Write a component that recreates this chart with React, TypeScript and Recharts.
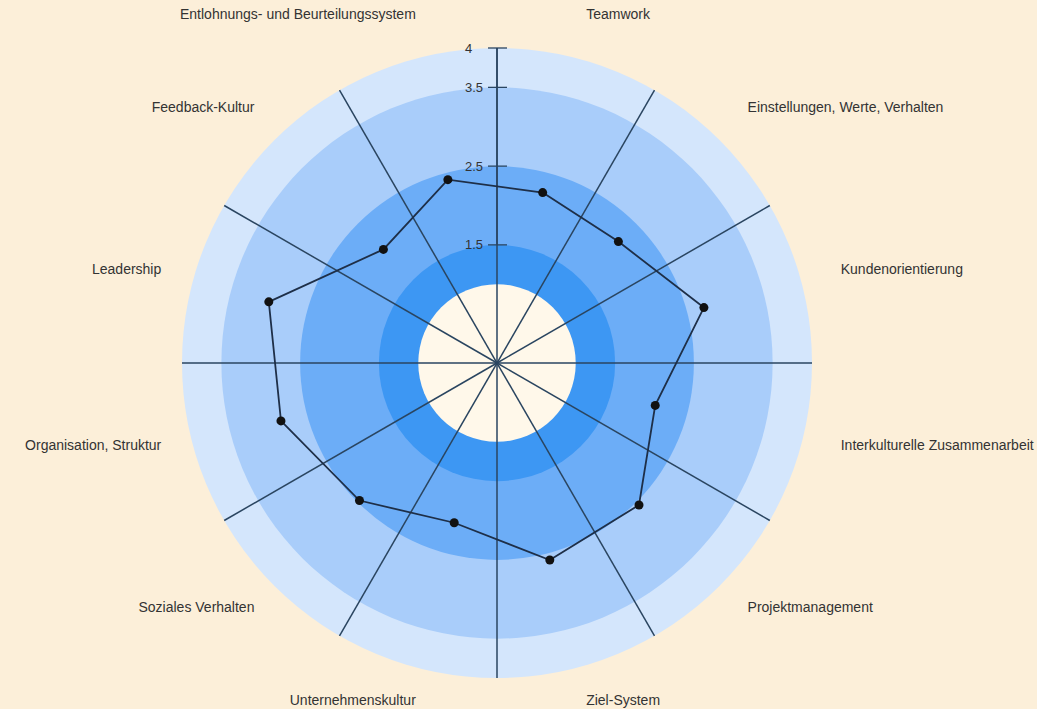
import { RadarChart, Radar, PolarGrid, PolarAngleAxis, PolarRadiusAxis } from 'recharts';

// categories in clockwise order, starting just right of the top spoke
const categories = [
  'Teamwork',
  'Einstellungen, Werte, Verhalten',
  'Kundenorientierung',
  'Interkulturelle Zusammenarbeit',
  'Projektmanagement',
  'Ziel-System',
  'Unternehmenskultur',
  'Soziales Verhalten',
  'Organisation, Struktur',
  'Leadership',
  'Feedback-Kultur',
  'Entlohnungs- und Beurteilungssystem',
];
const scores = [2.24, 2.18, 2.72, 2.08, 2.55, 2.59, 2.1, 2.47, 2.84, 3.0, 2.04, 2.41];

const radiusTicks = [1.5, 2.5, 3.5, 4];
// background rings: outer edge value of each filled circle, drawn largest first
const bandEdges = [4, 3.5, 2.5, 1.5, 1];
const bandColors = ['#d4e6fc', '#a9cdfa', '#6cadf7', '#3d97f3', '#fff8ea'];
const spokeAngles = [0, 30, 60, 90, 120, 150, 180, 210, 240, 270, 300, 330];

const W = 1037;
const H = 709;
const CX = 497;
const CY = 363;
const R = 315;
const LABEL_R = 360;
const FONT = 'Liberation Sans, Arial, sans-serif';

const chartData = categories.map((c, i) => {
  const row: any = { category: c, score: scores[i] };
  bandEdges.forEach((b, j) => { row['band' + j] = b; });
  return row;
});

const bandShape = (color: string) => (props: any) => {
  const p = props.points && props.points[0];
  if (!p) return null;
  return <circle cx={p.cx} cy={p.cy} r={p.radius} fill={color} stroke="none" />;
};

const renderAngleTick = (props: any) => {
  const { x, y, payload } = props;
  const dx = x - CX;
  const dy = y - CY;
  const len = Math.sqrt(dx * dx + dy * dy) || 1;
  // labels on the lower half sit a bit higher, left ones hug the circle a bit more
  const lx = CX + (dx / len) * LABEL_R + (dx >= 0 ? -4 : 12);
  const ly = CY + (dy / len) * LABEL_R + (dy > 0 ? -11 : -1);
  return (
    <text
      x={lx}
      y={ly}
      textAnchor={dx >= 0 ? 'start' : 'end'}
      dominantBaseline="central"
      fontSize={14}
      fontFamily={FONT}
      fill="#333"
    >
      {payload.value}
    </text>
  );
};

const renderRadiusTick = (props: any) => {
  const { x, y, payload } = props;
  return (
    <g>
      <line x1={x - 9} x2={x + 10} y1={y} y2={y} stroke="#2a4560" strokeWidth={1.3} />
      <text
        x={x - 32}
        y={y}
        textAnchor="start"
        dominantBaseline="central"
        fontSize={13}
        fontFamily={FONT}
        fill="#333"
      >
        {payload.value}
      </text>
    </g>
  );
};

const renderDot = (props: any) => (
  <circle key={'dot' + props.index} cx={props.cx} cy={props.cy} r={4.5} fill="#111" />
);

export default function App() {
  return (
    <div style={{ position: 'absolute', left: 0, top: 0, width: W, height: H, background: '#fcefd9' }}>
      <RadarChart
        width={W}
        height={H}
        data={chartData}
        cx={CX}
        cy={CY}
        outerRadius={R}
        startAngle={75}
        endAngle={-285}
        margin={{ top: 0, right: 0, bottom: 0, left: 0 }}
      >
        {bandEdges.map((b, j) => (
          <Radar
            key={'band' + j}
            dataKey={'band' + j}
            shape={bandShape(bandColors[j])}
            isAnimationActive={false}
            dot={false}
            zIndex={50 + j}
          />
        ))}
        <PolarGrid
          gridType="circle"
          polarAngles={spokeAngles}
          polarRadius={[0]}
          stroke="#2a4560"
          strokeWidth={1.5}
          strokeOpacity={1}
          zIndex={150}
        />
        <PolarAngleAxis dataKey="category" tick={renderAngleTick} tickLine={false} axisLine={false} />
        <PolarRadiusAxis
          angle={90}
          domain={[0, 4]}
          ticks={radiusTicks}
          tick={renderRadiusTick}
          axisLine={{ stroke: '#2a4560', strokeWidth: 1.5 }}
          tickLine={false}
          orientation="left"
          zIndex={200}
        />
        <Radar
          dataKey="score"
          stroke="#1e2f48"
          strokeWidth={1.8}
          fill="none"
          fillOpacity={0}
          dot={renderDot}
          isAnimationActive={false}
          zIndex={300}
        />
      </RadarChart>
    </div>
  );
}
